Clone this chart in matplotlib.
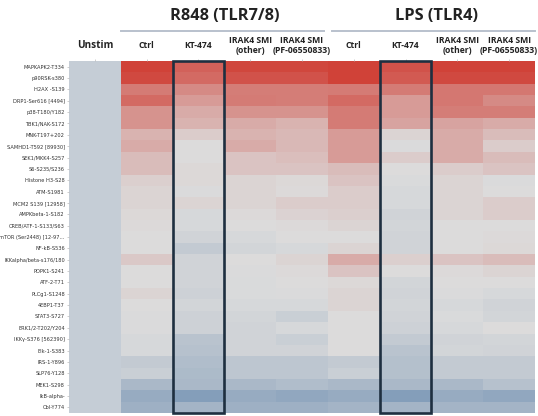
import numpy as np
import matplotlib
matplotlib.use("Agg")
import matplotlib.pyplot as plt
from matplotlib.colors import LinearSegmentedColormap, ListedColormap
from matplotlib.patches import Rectangle
import matplotlib.font_manager as fm

rows = ["MAPKAPK2-T334", "p90RSK-s380", "H2AX -S139", "DRP1-Ser616 [4494]",
        "p38-T180/Y182", "TBK1/NAK-S172", "MNK-T197+202", "SAMHD1-T592 [89930]",
        "SEK1/MKK4-S257", "S6-S235/S236", "Histone H3-S28", "ATM-S1981",
        "MCM2 S139 [12958]", "AMPKbeta-1-S182", "CREB/ATF-1-S133/S63",
        "mTOR (Ser2448) [12-97...", "NF-kB-S536", "IKKalpha/beta-s176/180",
        "PDPK1-S241", "ATF-2-T71", "PLCg1-S1248", "4EBP1-T37", "STAT3-S727",
        "ERK1/2-T202/Y204", "IKKγ-S376 [562390]", "Elk-1-S383", "IRS-1-Y896",
        "SLP76-Y128", "MEK1-S298", "IkB-alpha-", "Cbl-Y774"]

columns = ["Unstim", "Ctrl", "KT-474", "IRAK4 SMI\n(other)", "IRAK4 SMI\n(PF-06550833)",
           "Ctrl", "KT-474", "IRAK4 SMI\n(other)", "IRAK4 SMI\n(PF-06550833)"]
groups = ["R848 (TLR7/8)", "LPS (TLR4)"]

unstim = [0.0] * 31
r848_ctrl = [0.95, 0.90, 0.60, 0.70, 0.45, 0.45, 0.25, 0.30, 0.20, 0.20, 0.08, 0.05, 0.05, 0.03, 0.02,
             0.00, 0.00, 0.12, 0.00, 0.00, 0.05, 0.00, -0.02, -0.02, -0.05, -0.05, -0.20, -0.15, -0.40, -0.55, -0.50]
r848_kt = [0.75, 0.70, 0.50, 0.40, 0.30, 0.25, 0.10, 0.00, 0.00, 0.03, 0.03, -0.02, 0.05, -0.05, -0.05,
           -0.10, -0.20, -0.10, -0.10, -0.10, -0.12, -0.08, -0.12, -0.12, -0.28, -0.30, -0.35, -0.38, -0.40, -0.70, -0.45]
r848_other = [0.92, 0.85, 0.58, 0.60, 0.45, 0.30, 0.25, 0.30, 0.15, 0.15, 0.05, 0.05, 0.05, 0.02, 0.00,
              -0.05, -0.08, 0.00, -0.02, -0.03, -0.03, -0.05, -0.08, -0.10, -0.10, -0.10, -0.25, -0.25, -0.40, -0.55, -0.50]
r848_pf = [0.92, 0.85, 0.58, 0.58, 0.45, 0.25, 0.22, 0.22, 0.18, 0.15, 0.03, 0.02, 0.10, 0.06, 0.02,
           0.00, -0.05, 0.05, 0.02, 0.00, -0.02, -0.05, -0.15, -0.05, -0.15, -0.10, -0.25, -0.25, -0.35, -0.60, -0.50]
lps_ctrl = [0.95, 0.95, 0.60, 0.70, 0.60, 0.60, 0.40, 0.40, 0.40, 0.20, 0.15, 0.10, 0.10, 0.08, 0.05,
            0.00, 0.05, 0.30, 0.15, 0.03, 0.05, 0.05, 0.00, 0.00, 0.00, 0.00, -0.20, -0.15, -0.40, -0.55, -0.45]
lps_kt = [0.85, 0.80, 0.60, 0.40, 0.40, 0.35, 0.05, -0.02, 0.10, 0.00, -0.03, -0.05, -0.05, -0.10, -0.08,
          -0.10, -0.10, 0.08, 0.00, -0.08, -0.10, -0.08, -0.10, -0.12, -0.20, -0.28, -0.32, -0.32, -0.40, -0.70, -0.45]
lps_other = [0.95, 0.90, 0.62, 0.62, 0.58, 0.35, 0.30, 0.30, 0.30, 0.10, 0.05, 0.05, 0.05, 0.05, 0.00,
             0.00, 0.00, 0.15, 0.02, 0.00, -0.02, -0.05, -0.03, -0.05, -0.10, -0.08, -0.20, -0.20, -0.40, -0.55, -0.45]
lps_pf = [0.95, 0.90, 0.62, 0.50, 0.58, 0.30, 0.20, 0.10, 0.20, 0.15, -0.02, 0.00, 0.10, 0.10, 0.00,
          0.02, 0.03, 0.20, 0.05, 0.00, -0.05, -0.10, -0.08, 0.00, -0.08, -0.10, -0.20, -0.20, -0.30, -0.60, -0.45]

treated = np.array([r848_ctrl, r848_kt, r848_other, r848_pf,
                    lps_ctrl, lps_kt, lps_other, lps_pf]).T
nrow = len(rows)
ncol = len(columns)

cmap = LinearSegmentedColormap.from_list("bwr_soft", ["#5f84ab", "#dcdcdc", "#cf3a30"])
unstim_cmap = ListedColormap(["#c5cdd6"])

# pick a condensed sans font for the row labels if one is installed
cond = None
for f in fm.fontManager.ttflist:
    st = str(f.stretch).lower()
    if ("narrow" in f.name.lower() or "condensed" in f.name.lower() or "condensed" in st
            or (isinstance(f.stretch, int) and f.stretch < 500)) and f.weight in (400, "normal", "regular"):
        if "mono" in f.name.lower() or "serif" in f.name.lower() and "sans" not in f.name.lower():
            continue
        if f.style != "normal":
            continue
        cond = f.fname
        break
if cond is not None:
    label_fp = fm.FontProperties(fname=cond, size=4.1)
else:
    label_fp = fm.FontProperties(family="Roboto", size=3.6)

fig = plt.figure(figsize=(5.38, 4.16), dpi=100)
ax = fig.add_axes([69 / 538, 3 / 416, 466 / 538, 352 / 416])

ax.pcolormesh(np.arange(0, 2), np.arange(nrow + 1), np.array(unstim)[:, None],
              cmap=unstim_cmap, vmin=-1, vmax=1)
ax.pcolormesh(np.arange(1, ncol + 1), np.arange(nrow + 1), treated,
              cmap=cmap, vmin=-1, vmax=1)
ax.set_xlim(0, ncol)
ax.set_ylim(nrow, 0)

for s in ax.spines.values():
    s.set_visible(False)

ax.set_yticks(np.arange(nrow) + 0.5)
ax.set_yticklabels(rows, color="#333333")
for t in ax.get_yticklabels():
    t.set_fontproperties(label_fp)
ax.tick_params(axis="y", length=1.8, width=0.5, color="#bbbbbb", pad=1.2)
ax.set_xticks(np.arange(ncol) + 0.5)
ax.set_xticklabels([])
ax.tick_params(axis="x", top=True, bottom=False, length=1.5, width=0.5, color="#bbbbbb")

# KT-474 boxes
for c in [2, 6]:
    ax.add_patch(Rectangle((c, 0), 1, nrow, fill=False, edgecolor="#1e2f40",
                           linewidth=1.9, clip_on=False, zorder=5))

hfont = "Open Sans"
for i, lab in enumerate(columns):
    if i == 0:
        ax.text(i + 0.5, -1.4, lab, ha="center", va="center", fontsize=7.2,
                fontweight="bold", family=hfont, color="#222222")
    else:
        ax.text(i + 0.5, -1.4, lab, ha="center", va="center", fontsize=6.2,
                fontweight="bold", family=hfont, color="#222222", linespacing=1.15)

ax.text(3.0, -4.0, groups[0], ha="center", va="center", fontsize=11.8,
        fontweight="bold", family=hfont, color="#222222")
ax.text(7.1, -4.0, groups[1], ha="center", va="center", fontsize=11.8,
        fontweight="bold", family=hfont, color="#222222")
ax.plot([1.0, 4.92], [-2.65, -2.65], color="#b9c1cd", lw=1.4, clip_on=False)
ax.plot([5.08, 9.0], [-2.65, -2.65], color="#b9c1cd", lw=1.4, clip_on=False)

fig.savefig("out.png", dpi=100)
